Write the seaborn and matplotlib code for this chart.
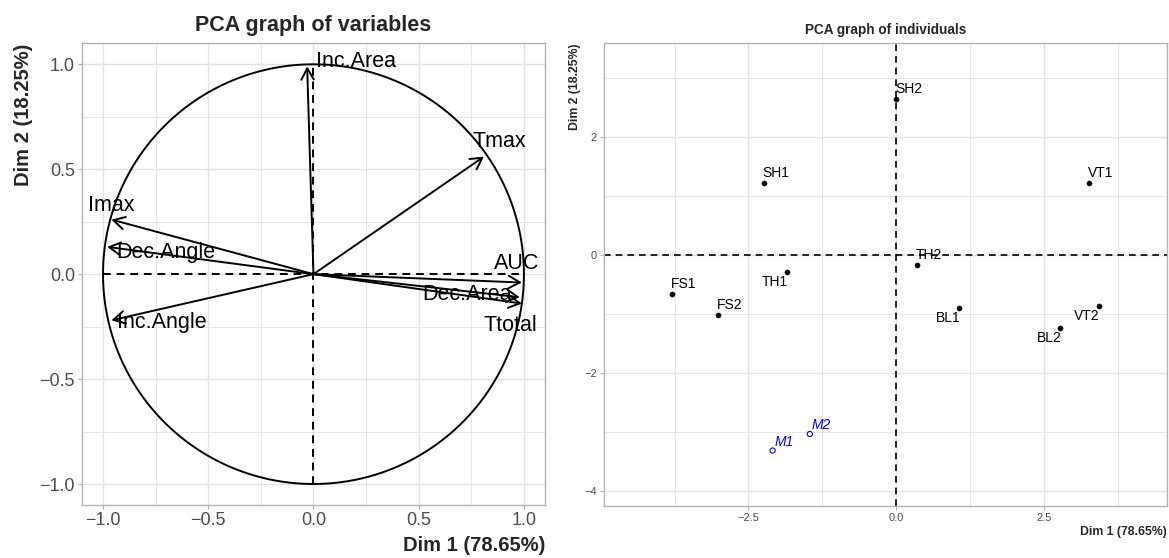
import numpy as np
import pandas as pd
import seaborn as sns
import matplotlib.pyplot as plt
from matplotlib.ticker import MultipleLocator

# ---------------------------
# DATA
# ---------------------------

# correlation circle (variables)
var_names = ["Inc.Area", "Tmax", "Imax", "Dec.Angle", "AUC", "Dec.Area", "Ttotal", "Inc.Angle"]
var_dim1 = [-0.03, 0.81, -0.96, -0.98, 0.99, 0.98, 0.99, -0.96]
var_dim2 = [0.99, 0.56, 0.26, 0.13, -0.04, -0.11, -0.14, -0.22]

# individuals (active)
ind_names = ["SH2", "SH1", "VT1", "TH2", "TH1", "FS1", "FS2", "BL1", "VT2", "BL2"]
ind_dim1 = [0.0, -2.24, 3.27, 0.35, -1.85, -3.79, -3.02, 1.07, 3.43, 2.78]
ind_dim2 = [2.64, 1.22, 1.23, -0.17, -0.28, -0.66, -1.02, -0.89, -0.86, -1.24]

# supplementary individuals
sup_names = ["M1", "M2"]
sup_dim1 = [-2.09, -1.46]
sup_dim2 = [-3.31, -3.03]

dim1_label = "Dim 1 (78.65%)"
dim2_label = "Dim 2 (18.25%)"

# label placement (offset in pixels, alignment) - layout only
var_label_pos = {
    "Inc.Area": (9, 5, "left"),
    "Tmax": (-11, 15, "left"),
    "Imax": (-23, 14, "left"),
    "Dec.Angle": (9, -6, "left"),
    "AUC": (-28, 19, "left"),
    "Dec.Area": (-8, 3, "right"),
    "Ttotal": (15, -22, "right"),
    "Inc.Angle": (6, -2, "left"),
}
ind_below = ["TH1", "BL1", "VT2", "BL2"]

var_df = pd.DataFrame({"name": var_names, "d1": var_dim1, "d2": var_dim2})
ind_df = pd.DataFrame({"name": ind_names, "d1": ind_dim1, "d2": ind_dim2})
sup_df = pd.DataFrame({"name": sup_names, "d1": sup_dim1, "d2": sup_dim2})

sns.set_theme(style="whitegrid")
plt.rcParams["font.family"] = ["Liberation Sans", "DejaVu Sans"]

GRID = "#E3E3E3"
BORDER = "#B3B3B3"
TICKC = "#4D4D4D"

fig = plt.figure(figsize=(11.69, 5.58), dpi=100)
ax1 = fig.add_axes([0.0701, 0.095, 0.3961, 0.8274])
ax2 = fig.add_axes([0.5164, 0.0932, 0.4816, 0.8292])


def style_axes(ax, major_x, major_y, tick_size):
    ax.set_facecolor("white")
    ax.xaxis.set_major_locator(MultipleLocator(major_x))
    ax.xaxis.set_minor_locator(MultipleLocator(major_x / 2))
    ax.yaxis.set_major_locator(MultipleLocator(major_y))
    ax.yaxis.set_minor_locator(MultipleLocator(major_y / 2))
    ax.grid(which="major", color=GRID, linewidth=1.0)
    ax.grid(which="minor", color=GRID, linewidth=0.6)
    ax.set_axisbelow(True)
    for sp in ax.spines.values():
        sp.set_visible(True)
        sp.set_color(BORDER)
        sp.set_linewidth(1.0)
    ax.tick_params(which="major", length=3, width=0.8, color=BORDER,
                   labelcolor=TICKC, labelsize=tick_size, pad=2,
                   bottom=True, left=True)
    ax.tick_params(which="minor", length=0)


# ---------------------------
# PCA GRAPH OF VARIABLES
# ---------------------------

theta = np.linspace(0, 2 * np.pi, 400)
ax1.plot(np.cos(theta), np.sin(theta), color="black", lw=1.4)
ax1.plot([-1, 1], [0, 0], color="black", lw=1.4, ls=(0, (4, 3)))
ax1.plot([0, 0], [-1, 1], color="black", lw=1.4, ls=(0, (4, 3)))

for _, row in var_df.iterrows():
    ax1.annotate("", xy=(row["d1"], row["d2"]), xytext=(0, 0),
                 arrowprops=dict(arrowstyle="->,head_length=0.45,head_width=0.25",
                                 color="black", lw=1.4, shrinkA=0, shrinkB=0,
                                 mutation_scale=18))
    dx, dy, ha = var_label_pos[row["name"]]
    ax1.annotate(row["name"], xy=(row["d1"], row["d2"]), xytext=(dx, dy),
                 textcoords="offset pixels", ha=ha, va="center",
                 fontsize=15.5, color="black")

ax1.set_xlim(-1.1, 1.1)
ax1.set_ylim(-1.1, 1.1)
style_axes(ax1, 0.5, 0.5, 13)
ax1.set_title("PCA graph of variables", fontsize=15.5, fontweight="bold", pad=9)
ax1.set_xlabel(dim1_label, fontsize=14.5, fontweight="bold", loc="right", labelpad=5)
ax1.set_ylabel(dim2_label, fontsize=14.5, fontweight="bold", loc="top", labelpad=5)

# ---------------------------
# PCA GRAPH OF INDIVIDUALS
# ---------------------------

ax2.axhline(0, color="black", lw=1.2, ls=(0, (4, 3)))
ax2.axvline(0, color="black", lw=1.2, ls=(0, (4, 3)))

sns.scatterplot(data=ind_df, x="d1", y="d2", ax=ax2, color="black",
                s=14, edgecolor="black", linewidth=0.3, legend=False, zorder=3)
sns.scatterplot(data=sup_df, x="d1", y="d2", ax=ax2, facecolor="none",
                edgecolor="blue", s=14, linewidth=0.8, legend=False, zorder=3)

for _, row in ind_df.iterrows():
    if row["name"] in ind_below:
        ax2.annotate(row["name"], xy=(row["d1"], row["d2"]), xytext=(1, -10),
                     textcoords="offset pixels", ha="right", va="center",
                     fontsize=10, color="black")
    else:
        ax2.annotate(row["name"], xy=(row["d1"], row["d2"]), xytext=(-1, 10),
                     textcoords="offset pixels", ha="left", va="center",
                     fontsize=10, color="black")

for _, row in sup_df.iterrows():
    ax2.annotate(row["name"], xy=(row["d1"], row["d2"]), xytext=(2, 9),
                 textcoords="offset pixels", ha="left", va="center",
                 fontsize=10, color="blue", style="italic")

ax2.set_xlim(-4.95, 4.58)
ax2.set_ylim(-4.25, 3.59)
style_axes(ax2, 2.5, 2, 8)
ax2.xaxis.set_minor_locator(MultipleLocator(1.25))
ax2.yaxis.set_minor_locator(MultipleLocator(1))
ax2.set_title("PCA graph of individuals", fontsize=9.8, fontweight="bold", pad=7)
ax2.set_xlabel(dim1_label, fontsize=8.8, fontweight="bold", loc="right", labelpad=2)
ax2.set_ylabel(dim2_label, fontsize=8.8, fontweight="bold", loc="top", labelpad=2)

fig.savefig("out.png", dpi=100)
